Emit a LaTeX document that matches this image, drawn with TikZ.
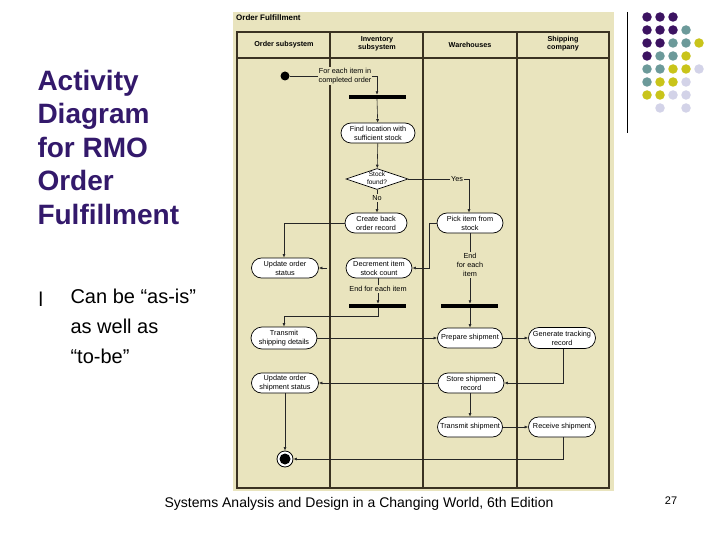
\documentclass[tikz,border=0pt]{standalone}
\usepackage{fontspec}
\setmainfont{Liberation Sans}
\usetikzlibrary{arrows.meta,shapes.geometric,shapes.misc}
\definecolor{bg}{HTML}{E9E4BE}
\definecolor{titlec}{HTML}{33196B}
\definecolor{dotP}{HTML}{3C1361}
\definecolor{dotT}{HTML}{6C9A9A}
\definecolor{dotY}{HTML}{C9C41A}
\definecolor{dotL}{HTML}{D3D3E8}
\definecolor{lanec}{HTML}{3A3222}
\newcommand{\dfont}{\fontsize{7.3}{9}\selectfont}
\begin{document}
\begin{tikzpicture}[x=1pt,y=-1pt,
  act/.style={draw=black, fill=white, shape=rounded rectangle, line width=0.7pt,
    minimum height=20pt, inner sep=1pt, align=center, font=\dfont},
  dec/.style={draw=black, fill=white, shape=diamond, line width=0.7pt,
    minimum width=62pt, minimum height=21pt, inner sep=0pt},
  conn/.style={draw=black!85, line width=0.6pt, -{Latex[length=3.5pt,width=3pt]}},
  lane/.style={draw=lanec, line width=1.2pt},
  lbl/.style={fill=bg, inner sep=1pt, align=center, font=\dfont},
  hdr/.style={align=center, font=\fontsize{7.2}{8}\selectfont\bfseries},
  bar/.style={fill=black, draw=none, minimum width=57pt, minimum height=4pt, inner sep=0pt},
  dot/.style={circle, inner sep=0pt, minimum size=9.5pt, draw=none}
]
\useasboundingbox (0,0) rectangle (720,540);
\fill[white] (0,0) rectangle (720,540);

% ---- left slide text ----
\node[anchor=west, align=left, text=titlec, font=\fontsize{28}{33.5}\selectfont\bfseries] (title) at (34,147)
  {Activity\\Diagram\\for RMO\\Order\\Fulfillment};
\node[anchor=base west, font=\fontsize{20}{22}\selectfont] (bul) at (35,306) {l};
\node[anchor=north west, align=left, font=\fontsize{20}{30}\selectfont] (btext) at (67,285)
  {Can be “as-is”\\as well as\\“to-be”};
\node[font=\fontsize{14}{16}\selectfont] (foot) at (359,504) {Systems Analysis and Design in a Changing World, 6th Edition};
\node[font=\fontsize{11}{12}\selectfont] (pnum) at (671,501) {27};

% ---- decoration ----
\draw[black, line width=1pt] (627,12) -- (627,133);
\foreach \c/\x/\y/\col in {
 1/647/17/dotP,2/660/17/dotP,3/673/17/dotP,
 4/647/30/dotP,5/660/30/dotP,6/673/30/dotP,7/686/30/dotT,
 8/647/43/dotP,9/660/43/dotP,10/673/43/dotT,11/686/43/dotT,12/699/43/dotY,
 13/647/56/dotP,14/660/56/dotT,15/673/56/dotT,16/686/56/dotY,
 17/647/69/dotT,18/660/69/dotT,19/673/69/dotY,20/686/69/dotY,21/699/69/dotL,
 22/647/82/dotT,23/660/82/dotY,24/673/82/dotY,25/686/82/dotL,
 26/647/95/dotY,27/660/95/dotY,28/673/95/dotL,29/686/95/dotL,
 30/660/108/dotL,31/686/108/dotL}{
  \node[dot, fill=\col] (d\c) at (\x,\y) {};
}

% ---- diagram background and lanes ----
\fill[bg] (233,12) rectangle (614,491);
\node[anchor=west, font=\fontsize{8}{9}\selectfont\bfseries, inner sep=0pt] (dtitle) at (236,18) {Order Fulfillment};
\draw[lane] (237,32) rectangle (609,488);
\draw[lane] (237,58) -- (609,58);
\draw[lane] (330,32) -- (330,488);
\draw[lane] (423,32) -- (423,488);
\draw[lane] (517,32) -- (517,488);
\node[hdr] (h1) at (284,45) {Order subsystem};
\node[hdr] (h2) at (377,44) {Inventory\\subsystem};
\node[hdr] (h3) at (470,45) {Warehouses};
\node[hdr] (h4) at (563,44) {Shipping\\company};

% ---- nodes ----
\node[circle, fill=black, inner sep=0pt, minimum size=9pt] (init) at (285,76) {};
\node[bar] (bar1) at (377.5,97) {};
\node[act, minimum width=76pt] (find) at (378,133) {Find location with\\sufficient stock};
\node[dec] (dia) at (377,179) {};
\node[align=center, font=\fontsize{6.5}{7.8}\selectfont, inner sep=0pt] (diatext) at (377,178.5) {Stock\\found?};
\node[act, minimum width=64pt] (back) at (376,223) {Create back\\order record};
\node[act, minimum width=68pt] (pick) at (470,223) {Pick item from\\stock};
\node[act, minimum width=69pt] (updst) at (285,268) {Update order\\status};
\node[act, minimum width=68pt] (decr) at (379,268) {Decrement item\\stock count};
\node[bar] (bar2) at (377.5,306) {};
\node[bar] (bar3) at (469.5,306) {};
\node[act, minimum width=68pt, minimum height=22pt] (tsd) at (284,338) {Transmit\\shipping details};
\node[act, minimum width=67pt] (prep) at (470,338) {Prepare shipment};
\node[act, minimum width=69pt, minimum height=21pt] (gen) at (562,338) {Generate tracking\\record};
\node[act, minimum width=69pt] (uoss) at (285,383) {Update order\\shipment status};
\node[act, minimum width=68pt] (store) at (471,383) {Store shipment\\record};
\node[act, minimum width=67pt] (tship) at (470,427) {Transmit shipment};
\node[act, minimum width=69pt] (recv) at (562,427) {Receive shipment};
\node[circle, draw=black, fill=white, line width=0.8pt, inner sep=0pt, minimum size=16pt] (final) at (285,459) {};
\fill[black] (final.center) circle (5.5pt);
\coordinate (stub) at (327,268);

% ---- connectors ----
\draw[conn] (init) -- (377,76) -- (bar1.north -| 377,0);
\node[lbl] (l1) at (345,76) {For each item in\\completed order};
\draw[conn] (bar1.south -| 377,0) -- (find);
\draw[conn] (find) -- (dia);
\draw[conn] (dia) -- (back.north -| 377,0);
\node[lbl] (lno) at (377,198) {No};
\draw[conn] (dia.east) -- (469,179) -- (pick.north -| 469,0);
\node[lbl] (lyes) at (457,179) {Yes};
\draw[conn] (back.west) -- (284,223) -- (updst.north -| 284,0);
\draw[conn] (pick.west) -- (429,223) -- (429,268) -- (decr.east);
\draw[conn] (stub) -- (updst.east);
\draw[conn] (decr.south -| 378,0) -- (bar2.north -| 378,0);
\node[lbl] (l2) at (378,289) {End for each item};
\draw[conn] (pick.south) -- (bar3.north -| 470,0);
\node[lbl] (l3) at (470,265) {End\\for each\\item};
\draw[conn] (bar2.south -| 378,0) -- (378,316) -- (284,316) -- (tsd.north);
\draw[conn] (bar3.south -| 470,0) -- (prep.north);
\draw[conn] (tsd.east) -- (prep.west);
\draw[conn] (prep.east) -- (gen.west);
\draw[conn] (gen.south -| 563,0) -- (563,383) -- (store.east);
\draw[conn] (store.west) -- (uoss.east);
\draw[conn] (store.south -| 470,0) -- (tship.north);
\draw[conn] (tship.east) -- (recv.west);
\draw[conn] (recv.south -| 563,0) -- (563,459) -- (final.east);
\draw[conn] (uoss.south) -- (final.north);
\end{tikzpicture}
\end{document}
